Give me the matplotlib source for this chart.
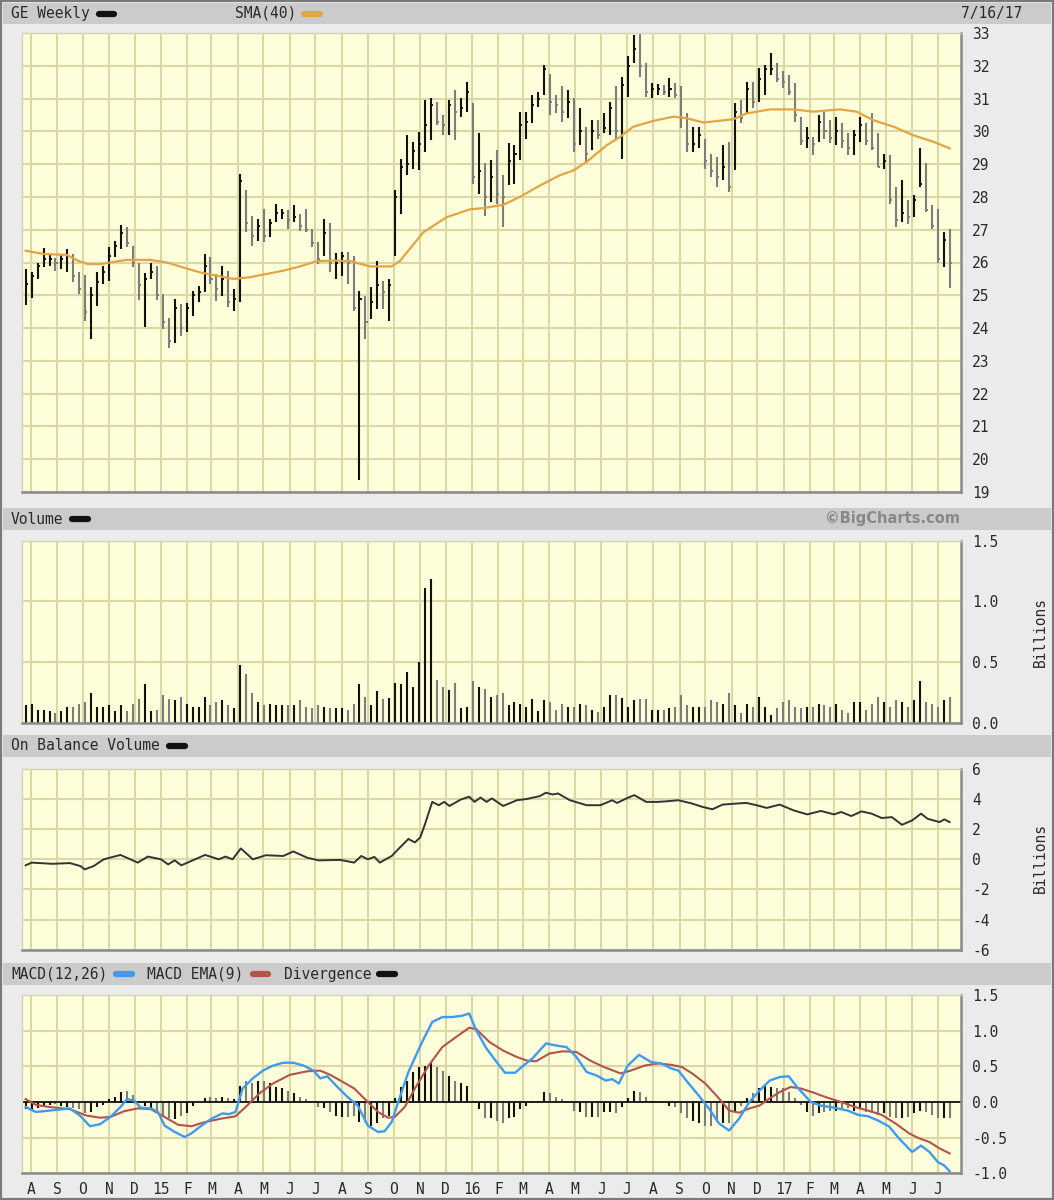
import numpy as np
import pandas as pd
import matplotlib
matplotlib.use('Agg')
import matplotlib.pyplot as plt
import matplotlib.dates as mdates
from matplotlib.lines import Line2D
from matplotlib.patches import Rectangle

plt.rcParams['font.family'] = ['DejaVu Sans Mono']
plt.rcParams['axes.unicode_minus'] = False

# ---- data (weekly, GE) ----
highs = [25.8, 25.7, 26.0, 26.43, 26.26, 26.13, 26.26, 26.4, 26.26, 25.7,
         25.63, 25.25, 25.7, 25.9, 26.47, 26.67, 27.13, 27.08, 26.5, 26.0,
         25.67, 25.98, 25.9, 25.03, 24.32, 24.88, 24.73, 24.76, 25.14, 25.29,
         26.26, 26.16, 25.65, 25.9, 25.75, 25.19, 28.71, 28.2, 27.43, 27.33,
         27.64, 27.33, 27.79, 27.64, 27.59, 27.74, 27.48, 27.64, 27.03, 26.62,
         27.33, 27.2, 26.3, 26.31, 26.31, 26.2, 25.14, 24.98, 25.24, 26.06,
         25.44, 25.49, 28.2, 29.17, 29.88, 29.68, 29.99, 30.96, 31.01, 30.91,
         30.5, 30.96, 31.26, 31.01, 31.52, 30.86, 29.94, 29.02, 29.13, 29.43,
         28.66, 29.63, 29.58, 30.6, 30.6, 31.1, 31.21, 32.03, 31.74, 31.11,
         31.37, 31.26, 31.01, 30.7, 30.14, 30.35, 30.35, 30.55, 30.91, 31.37,
         31.67, 32.29, 32.95, 33.05, 32.08, 31.47, 31.44, 31.42, 31.62, 31.47,
         31.37, 30.55, 30.14, 30.14, 29.78, 29.32, 29.22, 29.58, 29.68, 30.86,
         30.96, 31.52, 31.52, 31.93, 32.03, 32.39, 32.08, 31.83, 31.72, 31.47,
         30.45, 30.14, 29.83, 30.5, 30.6, 30.35, 30.45, 30.24, 29.94, 30.04,
         30.45, 30.24, 30.55, 29.94, 29.32, 29.27, 28.3, 28.51, 27.9, 28.05,
         29.48, 29.02, 27.74, 27.64, 26.92, 27.03]
lows = [24.7, 24.93, 25.5, 25.85, 25.9, 25.75, 25.8, 25.7, 25.4, 25.03,
        24.22, 23.66, 24.68, 25.34, 25.44, 26.16, 26.4, 26.46, 25.85, 24.86,
        24.04, 25.5, 24.86, 23.96, 23.4, 23.55, 23.76, 23.88, 24.37, 24.78,
        25.09, 25.34, 24.83, 24.98, 24.63, 24.52, 24.78, 26.92, 26.51, 26.67,
        26.62, 26.77, 27.23, 27.33, 27.03, 27.23, 26.97, 26.92, 26.46, 25.95,
        26.2, 25.7, 25.5, 25.6, 25.34, 24.52, 19.37, 23.66, 24.27, 24.58,
        24.58, 24.22, 26.2, 27.49, 28.66, 28.86, 28.81, 29.38, 29.73, 30.19,
        29.88, 29.88, 29.73, 30.45, 30.6, 28.4, 28.1, 27.43, 27.84, 27.79,
        27.08, 28.35, 28.4, 29.12, 29.78, 30.24, 30.75, 31.11, 30.5, 30.55,
        30.29, 30.4, 29.38, 29.58, 29.02, 29.43, 29.78, 29.94, 29.88, 29.73,
        29.17, 31.06, 32.08, 31.67, 31.06, 31.01, 31.11, 31.11, 31.06, 31.01,
        30.09, 29.38, 29.38, 29.48, 28.86, 28.61, 28.3, 28.51, 28.15, 28.81,
        30.24, 30.55, 30.7, 30.91, 31.11, 31.72, 31.52, 31.32, 31.11, 30.29,
        29.58, 29.48, 29.27, 29.68, 29.78, 29.63, 29.58, 29.48, 29.27, 29.27,
        29.68, 29.58, 29.43, 28.92, 28.86, 27.79, 27.08, 27.23, 27.18, 27.38,
        28.3, 27.54, 27.03, 26.0, 25.85, 25.21]
closes = [25.35, 25.6, 25.9, 26.1, 26.1, 26.0, 26.1, 26.2, 25.6, 25.2,
          24.5, 25.0, 25.4, 25.7, 26.2, 26.5, 26.9, 26.6, 26.0, 25.3,
          25.5, 25.7, 25.0, 24.2, 23.6, 24.6, 24.0, 24.6, 25.0, 25.1,
          25.9, 25.5, 25.2, 25.5, 24.8, 24.9, 28.5, 27.2, 26.8, 27.1,
          26.8, 27.2, 27.5, 27.5, 27.3, 27.4, 27.1, 27.0, 26.6, 26.1,
          26.9, 26.0, 26.0, 26.2, 26.0, 24.6, 24.9, 24.2, 24.8, 25.3,
          25.1, 25.3, 28.0, 28.9, 29.0, 29.4, 29.6, 30.2, 30.8, 30.3,
          30.2, 30.8, 30.6, 30.7, 31.2, 28.6, 28.8, 28.0, 28.6, 28.1,
          28.0, 29.1, 29.3, 30.2, 30.3, 30.8, 31.0, 31.9, 30.9, 30.8,
          30.6, 30.9, 29.6, 30.0, 29.3, 30.0, 29.9, 30.1, 30.7, 30.0,
          31.4, 32.0, 32.5, 32.0, 31.2, 31.3, 31.3, 31.2, 31.3, 31.1,
          30.4, 29.6, 29.6, 29.9, 29.1, 28.8, 28.6, 28.9, 28.3, 30.6,
          30.4, 31.3, 30.9, 31.6, 31.9, 31.9, 31.6, 31.5, 31.2, 30.5,
          29.7, 29.8, 29.6, 30.3, 30.0, 29.8, 30.0, 29.7, 29.5, 29.9,
          30.2, 29.7, 29.5, 28.9, 29.1, 27.9, 27.3, 27.5, 27.4, 27.9,
          28.4, 27.6, 27.1, 26.1, 26.7, 26.0]
volume = [0.144, 0.158, 0.111, 0.111, 0.097, 0.083, 0.097, 0.133, 0.133, 0.158,
          0.172, 0.244, 0.133, 0.133, 0.144, 0.097, 0.144, 0.097, 0.158, 0.2,
          0.319, 0.097, 0.111, 0.228, 0.2, 0.186, 0.214, 0.158, 0.133, 0.133,
          0.214, 0.144, 0.172, 0.186, 0.144, 0.125, 0.478, 0.403, 0.244, 0.172,
          0.144, 0.158, 0.144, 0.144, 0.144, 0.144, 0.186, 0.133, 0.125, 0.144,
          0.133, 0.125, 0.125, 0.125, 0.111, 0.158, 0.319, 0.214, 0.144, 0.264,
          0.194, 0.208, 0.333, 0.319, 0.417, 0.292, 0.5, 1.111, 1.181, 0.353,
          0.292, 0.269, 0.333, 0.125, 0.133, 0.342, 0.292, 0.278, 0.214, 0.228,
          0.244, 0.144, 0.172, 0.158, 0.133, 0.2, 0.097, 0.186, 0.172, 0.111,
          0.158, 0.133, 0.133, 0.158, 0.144, 0.111, 0.089, 0.133, 0.228, 0.228,
          0.208, 0.133, 0.186, 0.194, 0.194, 0.111, 0.111, 0.111, 0.125, 0.133,
          0.228, 0.144, 0.133, 0.133, 0.133, 0.186, 0.172, 0.158, 0.244, 0.144,
          0.083, 0.158, 0.131, 0.214, 0.133, 0.069, 0.125, 0.172, 0.186, 0.133,
          0.125, 0.133, 0.133, 0.158, 0.144, 0.133, 0.158, 0.111, 0.083, 0.172,
          0.172, 0.111, 0.158, 0.214, 0.172, 0.133, 0.186, 0.172, 0.133, 0.186,
          0.347, 0.172, 0.158, 0.133, 0.186, 0.214]
divergence = [-0.10, -0.13, -0.08, -0.05, -0.04, -0.03, -0.05, -0.07, -0.08, -0.10,
              -0.16, -0.14, -0.07, -0.04, 0.04, 0.07, 0.14, 0.15, 0.10, 0.0,
              -0.05, -0.10, -0.15, -0.20, -0.22, -0.24, -0.20, -0.15, -0.05, 0.0,
              0.05, 0.07, 0.05, 0.07, 0.06, 0.04, 0.23, 0.30, 0.26, 0.29,
              0.29, 0.26, 0.21, 0.20, 0.15, 0.13, 0.07, 0.04, 0.0, -0.07,
              -0.08, -0.14, -0.19, -0.21, -0.21, -0.19, -0.28, -0.28, -0.33, -0.30,
              -0.23, -0.19, 0.06, 0.21, 0.30, 0.42, 0.49, 0.51, 0.54, 0.49,
              0.43, 0.36, 0.29, 0.26, 0.23, 0.01, -0.10, -0.22, -0.23, -0.26,
              -0.30, -0.23, -0.21, -0.10, -0.05, 0.01, 0.02, 0.14, 0.12, 0.07,
              0.04, 0.0, -0.12, -0.14, -0.21, -0.21, -0.21, -0.14, -0.14, -0.16,
              -0.07, 0.05, 0.15, 0.14, 0.07, 0.01, 0.0, -0.02, -0.05, -0.07,
              -0.16, -0.22, -0.26, -0.30, -0.33, -0.33, -0.28, -0.30, -0.30, -0.14,
              -0.05, 0.05, 0.12, 0.19, 0.22, 0.21, 0.19, 0.20, 0.14, 0.05,
              -0.04, -0.14, -0.19, -0.16, -0.14, -0.12, -0.12, -0.09, -0.09, -0.12,
              -0.09, -0.14, -0.15, -0.18, -0.16, -0.21, -0.23, -0.23, -0.21, -0.16,
              -0.12, -0.14, -0.18, -0.23, -0.22, -0.23]

# line series read at week numbers (0 = first weekly bar)
sma_wk = [0, 3, 6.9, 8.8, 10.5, 12.5, 14.1, 16.9, 20.9, 23.7, 26.4, 29.2, 32, 34.8,
          37.6, 40.4, 43.2, 46, 48.8, 51.6, 54.4, 57.8, 61.4, 62.8, 66.7, 70.6,
          74.5, 76.8, 80.1, 82.9, 86.3, 89.6, 91.9, 94.1, 97.5, 99.7, 101.9, 105.3,
          108.7, 110.9, 113.7, 118.7, 121, 124.9, 128.8, 132.1, 136.6, 139.4, 142.2,
          145.6, 148.9, 152.3, 155]
sma = [26.36, 26.26, 26.23, 26.05, 25.95, 25.95, 26.0, 26.08, 26.08, 26.0, 25.85,
       25.7, 25.6, 25.5, 25.55, 25.65, 25.75, 25.88, 26.04, 26.06, 26.04, 25.88,
       25.88, 26.05, 26.92, 27.38, 27.62, 27.66, 27.76, 28.0, 28.35, 28.66, 28.81,
       29.07, 29.58, 29.83, 30.14, 30.32, 30.45, 30.4, 30.27, 30.37, 30.55, 30.67,
       30.67, 30.6, 30.67, 30.6, 30.34, 30.14, 29.88, 29.68, 29.48]
obv_wk = [0, 1, 4.5, 7.4, 9.2, 9.9, 11.4, 13.1, 15.9, 18.8, 20.5, 22.7, 23.9, 25,
          26.1, 27.8, 30.1, 32.4, 33.5, 34.7, 36.1, 38.1, 40.3, 43.2, 44.9, 47.2,
          49.1, 52.8, 55.1, 56.3, 57.4, 58.5, 59.4, 61.4, 62.5, 64.2, 65.3, 66.2,
          67, 68.2, 69.3, 70.2, 71.1, 73, 74.4, 75.3, 76.3, 77.3, 78.2, 80.1, 82.4,
          84, 86.2, 87.3, 88.4, 89.3, 91.3, 94.1, 96.4, 98.4, 99.2, 101, 102.1,
          104.1, 106.1, 107.8, 109.5, 111.8, 113.5, 115.2, 116.9, 119.2, 120.9,
          122.6, 124.3, 126.5, 128.8, 131.1, 133.4, 135.6, 136.8, 138.5, 140.2,
          141.9, 143.6, 145.3, 147, 148.7, 150.2, 151.3, 153.3, 154.1, 155]
obv = [-0.4, -0.22, -0.3, -0.25, -0.45, -0.67, -0.45, 0.0, 0.29, -0.22, 0.18, 0.0,
       -0.34, -0.07, -0.4, -0.11, 0.29, 0.0, 0.18, 0.0, 0.72, 0.0, 0.27, 0.22,
       0.52, 0.11, -0.07, -0.04, -0.22, 0.22, 0.0, 0.16, -0.22, 0.22, 0.67, 1.35,
       1.12, 1.46, 2.35, 3.81, 3.59, 3.81, 3.54, 3.97, 4.15, 3.81, 4.1, 3.81, 4.04,
       3.54, 3.92, 4.0, 4.19, 4.42, 4.3, 4.37, 3.92, 3.59, 3.59, 3.92, 3.74, 4.08,
       4.26, 3.81, 3.81, 3.86, 3.92, 3.7, 3.48, 3.32, 3.63, 3.7, 3.74, 3.59, 3.41,
       3.63, 3.25, 2.98, 3.21, 2.98, 3.14, 2.87, 3.18, 3.03, 2.74, 2.8, 2.29, 2.58,
       3.03, 2.69, 2.47, 2.65, 2.47]
macd_wk = [0, 1.7, 4, 6.25, 7.4, 9.1, 10.8, 12.5, 14.2, 15.9, 17, 18.2, 19.3, 21,
           22.2, 23.3, 25, 26.7, 27.8, 29.5, 31.25, 33, 34.1, 35.2, 36.4, 38.1,
           39.8, 41.5, 43.2, 44.9, 46.6, 48.3, 49.4, 50.6, 52.3, 54, 55.7, 57.4,
           59.1, 60.2, 61.4, 62.5, 64.2, 66.5, 68.2, 69.9, 71.6, 73.3, 74.4, 75.6,
           77.3, 79, 80.4, 82.1, 83.5, 85, 87.3, 89, 90.7, 92.4, 94.1, 95.8, 97.3,
           98.4, 99.5, 101, 102.9, 104.9, 106.6, 108.3, 109.5, 111.2, 112.9, 114.6,
           116.3, 118, 119.7, 121.4, 123.1, 124.8, 126.5, 128, 129.4, 131.7, 133.4,
           135.6, 137.9, 139.6, 141.3, 143, 144.8, 146.5, 148.7, 150.2, 151.6, 153,
           154.1, 155]
macd = [-0.07, -0.14, -0.12, -0.1, -0.09, -0.19, -0.34, -0.31, -0.21, -0.07, 0.04,
        0.02, -0.08, -0.09, -0.14, -0.33, -0.42, -0.49, -0.44, -0.33, -0.23, -0.16,
        -0.17, -0.14, 0.19, 0.33, 0.44, 0.51, 0.55, 0.55, 0.51, 0.44, 0.33, 0.36,
        0.21, 0.07, -0.05, -0.33, -0.42, -0.41, -0.28, 0.0, 0.42, 0.84, 1.12, 1.19,
        1.19, 1.21, 1.24, 1.0, 0.75, 0.56, 0.41, 0.41, 0.51, 0.61, 0.82, 0.79, 0.77,
        0.63, 0.42, 0.37, 0.3, 0.32, 0.26, 0.51, 0.66, 0.56, 0.54, 0.47, 0.44, 0.26,
        0.09, -0.09, -0.3, -0.4, -0.23, 0.0, 0.16, 0.3, 0.35, 0.36, 0.21, 0.0, -0.05,
        -0.08, -0.12, -0.18, -0.2, -0.26, -0.34, -0.51, -0.7, -0.61, -0.7, -0.84,
        -0.89, -0.97]
signal_wk = [0, 1.7, 4, 7.4, 10.2, 12.5, 14.2, 16.5, 18.75, 21, 23.3, 25.6, 27.8,
             30.1, 33, 35.2, 36.9, 39.2, 41.5, 44.3, 47.2, 49.4, 51.1, 52.8, 55.1,
             57.4, 59.1, 60.8, 61.9, 63.6, 65.3, 67.6, 69.9, 72.2, 74.4, 75.6, 77.8,
             80.1, 82.4, 84.1, 85.6, 87.9, 90.1, 92.4, 94.7, 97, 99.8, 101.5, 103.8,
             106.1, 108.3, 110.1, 111.8, 114, 116.3, 118, 119.7, 121.4, 123.1, 124.8,
             126.5, 128.3, 130, 132.2, 134.5, 136.8, 139.1, 141.3, 143.6, 145.9,
             148.2, 149.9, 151.6, 153.3, 155]
signal = [0.04, -0.04, -0.07, -0.1, -0.19, -0.22, -0.21, -0.13, -0.09, -0.1, -0.21,
          -0.32, -0.34, -0.28, -0.23, -0.2, -0.07, 0.12, 0.26, 0.38, 0.43, 0.44, 0.38,
          0.3, 0.19, 0.0, -0.14, -0.22, -0.21, -0.07, 0.19, 0.51, 0.77, 0.91, 1.04,
          1.02, 0.84, 0.72, 0.63, 0.58, 0.57, 0.68, 0.71, 0.7, 0.58, 0.49, 0.4, 0.44,
          0.51, 0.54, 0.52, 0.49, 0.4, 0.26, 0.05, -0.12, -0.15, -0.09, -0.05, 0.05,
          0.14, 0.21, 0.19, 0.13, 0.06, 0.0, -0.07, -0.12, -0.18, -0.3, -0.44, -0.51,
          -0.56, -0.65, -0.72]

# ---- layout helpers (pixel coords of the 1054x1200 image) ----
W, H = 1054, 1200
weeks = pd.date_range('2014-07-26', periods=len(highs), freq='7D')
start = weeks[0]


def wk2date(w):
    return start + pd.to_timedelta(np.asarray(w, dtype=float) * 7, unit='D')


x_lo = start - pd.Timedelta(days=4.3)
x_hi = start + pd.Timedelta(days=156.9 * 7)

fig = plt.figure(figsize=(W / 100, H / 100), dpi=100)
fig.patch.set_facecolor('#ebebeb')
fig.add_artist(Rectangle((0, 0), 1, 1, transform=fig.transFigure, fill=False,
                         ec='#7a7a7a', lw=3))

BG = '#fefedb'
GRID = '#d9d9a3'
TXT = '#2a2a2a'
FS = 10.5


def fx(x):
    return x / W


def fy(y):
    return 1 - y / H


def header(y0, y1):
    fig.add_artist(Rectangle((fx(3), fy(y1)), fx(1048), (y1 - y0) / H,
                             transform=fig.transFigure, fc='#cbcbcb', ec='none'))


def swatch(x0, x1, y, c):
    fig.add_artist(Line2D([fx(x0), fx(x1)], [fy(y), fy(y)], transform=fig.transFigure,
                          lw=4.5, color=c, solid_capstyle='round'))


def htext(x, y, s, **kw):
    fig.text(fx(x), fy(y), s, fontsize=FS, color=TXT, va='center', **kw)


def make_ax(y0, y1, ylo, yhi, ticks, labels):
    ax = fig.add_axes([fx(22), fy(y1), fx(961 - 22), (y1 - y0) / H])
    ax.set_facecolor(BG)
    ax.set_xlim(x_lo, x_hi)
    ax.set_ylim(ylo, yhi)
    ax.set_yticks(ticks)
    ax.set_yticklabels(labels)
    ax.yaxis.tick_right()
    ax.tick_params(axis='y', length=0, pad=8, labelsize=FS, labelcolor=TXT)
    ax.xaxis.set_major_locator(mdates.MonthLocator())
    ax.tick_params(axis='x', length=0, labelbottom=False)
    ax.grid(True, color=GRID, lw=1.5)
    ax.set_axisbelow(True)
    for s in ('top', 'left'):
        ax.spines[s].set_color('#d4d4b8')
        ax.spines[s].set_linewidth(1)
    for s in ('bottom', 'right'):
        ax.spines[s].set_color('#8a8a8a')
        ax.spines[s].set_linewidth(1.8)
    return ax


up = np.r_[True, np.diff(closes) >= 0]
bar_col = np.where(up, '#111111', '#7d7d7d')
tick = pd.Timedelta(days=2.4)

# ---- price panel ----
header(3, 24)
htext(11, 13.5, 'GE Weekly')
swatch(99, 114, 13.5, '#111111')
htext(235, 13.5, 'SMA(40)')
swatch(304, 320, 13.5, '#e3a444')
htext(1022, 13.5, '7/16/17', ha='right')

ax1 = make_ax(33, 492, 19, 33, range(19, 34), [str(v) for v in range(19, 34)])
ax1.vlines(weeks, lows, highs, colors=bar_col, lw=1.5)
ax1.hlines(closes, weeks, weeks + tick, colors=bar_col, lw=1.4)
ax1.plot(wk2date(sma_wk), sma, color='#e3a444', lw=1.6)

# ---- volume panel ----
header(508, 530)
htext(11, 519, 'Volume')
swatch(72, 88, 519, '#111111')
fig.text(fx(960), fy(519), '\u00a9BigCharts.com', fontsize=FS, color='#888888',
         va='center', ha='right', fontweight='bold', family=['DejaVu Sans'])

ax2 = make_ax(540.6, 723, 0, 1.5, [0, 0.5, 1.0, 1.5], ['0.0', '0.5', '1.0', '1.5'])
ax2.vlines(weeks, 0, volume, colors=bar_col, lw=1.5)
fig.text(fx(1040), fy(632), 'Billions', fontsize=FS, color=TXT, rotation=90,
         ha='center', va='center')

# ---- OBV panel ----
header(735, 757)
htext(11, 746, 'On Balance Volume')
swatch(169, 185, 746, '#111111')

ax3 = make_ax(768.9, 949.7, -6, 6, range(-6, 7, 2), [str(v) for v in range(-6, 7, 2)])
ax3.plot(wk2date(obv_wk), obv, color='#333333', lw=1.4)
fig.text(fx(1040), fy(858), 'Billions', fontsize=FS, color=TXT, rotation=90,
         ha='center', va='center')

# ---- MACD panel ----
header(963, 985)
htext(11, 974, 'MACD(12,26)')
swatch(116, 132, 974, '#3d9bf0')
htext(147, 974, 'MACD EMA(9)')
swatch(253, 268, 974, '#b5524a')
htext(284, 974, 'Divergence')
swatch(379, 395, 974, '#111111')

mt = [1.5, 1.0, 0.5, 0.0, -0.5, -1.0]
ax4 = make_ax(994.9, 1173.4, -1.0, 1.5, mt, ['%.1f' % v for v in mt])
ax4.vlines(weeks, 0, divergence, colors=bar_col, lw=1.5)
ax4.axhline(0, color='#111111', lw=1.3)
ax4.plot(wk2date(signal_wk), signal, color='#b5524a', lw=1.5)
ax4.plot(wk2date(macd_wk), macd, color='#3d9bf0', lw=1.7)


def month_label(x, pos):
    d = mdates.num2date(x)
    return '%02d' % (d.year % 100) if d.month == 1 else d.strftime('%b')[0]


ax4.xaxis.set_major_formatter(plt.FuncFormatter(month_label))
ax4.tick_params(axis='x', labelbottom=True, pad=6, labelsize=FS, labelcolor=TXT)

fig.savefig('out.png', dpi=100, facecolor=fig.get_facecolor())
